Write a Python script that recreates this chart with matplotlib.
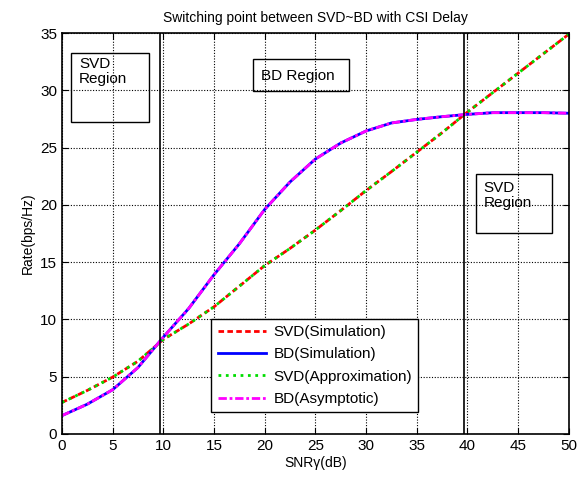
import matplotlib.pyplot as plt
from matplotlib.patches import Rectangle

plt.rcParams['font.family'] = ['Liberation Sans', 'DejaVu Sans']

# SNR in dB and achievable rates
snr = [0, 2.5, 5, 7.5, 10, 12.5, 15, 17.5, 20, 22.5, 25, 27.5, 30, 32.5, 35,
       37.5, 40, 42.5, 45, 47.5, 50]
svd_sim = [2.75, 3.8, 4.96, 6.35, 8.25, 9.6, 11.1, 12.9, 14.7, 16.2, 17.8, 19.5,
           21.25, 22.9, 24.6, 26.3, 28.1, 29.8, 31.5, 33.2, 34.9]
bd_sim = [1.6, 2.6, 3.86, 5.8, 8.45, 10.95, 13.9, 16.6, 19.6, 22.0, 24.0, 25.4,
          26.45, 27.15, 27.46, 27.7, 27.9, 28.05, 28.05, 28.05, 28.0]
svd_approx = [2.75, 3.8, 4.96, 6.35, 8.25, 9.6, 11.1, 12.9, 14.7, 16.2, 17.8, 19.5,
              21.25, 22.9, 24.6, 26.3, 28.1, 29.8, 31.5, 33.2, 34.9]
bd_asym = [1.6, 2.6, 3.86, 5.8, 8.45, 10.95, 13.9, 16.6, 19.6, 22.0, 24.0, 25.4,
           26.45, 27.15, 27.46, 27.7, 27.9, 28.05, 28.05, 28.05, 28.0]

# switching points
switch_pts = [9.65, 39.7]

fig = plt.figure(figsize=(5.84, 4.79), dpi=100)
ax = fig.add_axes([0.106, 0.094, 0.868, 0.837])

ax.plot(snr, svd_sim, color='red', linestyle='--', linewidth=2, dashes=(2, 1.2),
        label='SVD(Simulation)')
ax.plot(snr, bd_sim, color='blue', linestyle='-', linewidth=2, label='BD(Simulation)')
ax.plot(snr, svd_approx, color='#00dd00', linestyle=':', linewidth=2,
        label='SVD(Approximation)')
ax.plot(snr, bd_asym, color='magenta', linestyle='-.', linewidth=2, dashes=(3, 1, 1, 1),
        label='BD(Asymptotic)')

for xs in switch_pts:
    ax.axvline(xs, color='black', linewidth=1.2)

ax.set_xlim(0, 50)
ax.set_ylim(0, 35)
ax.set_xticks(range(0, 51, 5))
ax.set_yticks(range(0, 36, 5))
ax.grid(True, color='black', linestyle=(0, (1, 1.5)), linewidth=0.8)
ax.tick_params(axis='both', which='both', direction='in', top=True, right=True,
               labelsize=11, length=4)
for s in ax.spines.values():
    s.set_linewidth(1.2)

ax.set_title('Switching point between SVD~BD with CSI Delay', fontsize=10, pad=8)
ax.set_xlabel('SNR\u03b3(dB)', fontsize=10, labelpad=2)
ax.set_ylabel('Rate(bps/Hz)', fontsize=10)

# region annotations
ax.add_patch(Rectangle((0.85, 27.25), 7.75, 6.05, fill=False, edgecolor='black', linewidth=1))
ax.text(1.7, 32.9, 'SVD\nRegion', fontsize=11, va='top', ha='left', linespacing=1.1)

ax.add_patch(Rectangle((18.85, 29.9), 9.45, 2.8, fill=False, edgecolor='black', linewidth=1))
ax.text(19.6, 31.25, 'BD Region', fontsize=11, va='center', ha='left')

ax.add_patch(Rectangle((40.8, 17.56), 7.5, 5.14, fill=False, edgecolor='black', linewidth=1))
ax.text(41.6, 22.1, 'SVD\nRegion', fontsize=11, va='top', ha='left', linespacing=1.1)

leg = ax.legend(loc='lower left', bbox_to_anchor=(0.295, 0.054, 0.408, 0.23), mode='expand',
                fontsize=11, frameon=True, fancybox=False, framealpha=1, edgecolor='black',
                handlelength=3.2, handletextpad=0.45, borderpad=0.4, labelspacing=0.55,
                borderaxespad=0)
leg.get_frame().set_linewidth(1)

plt.savefig('out.png', dpi=100)
